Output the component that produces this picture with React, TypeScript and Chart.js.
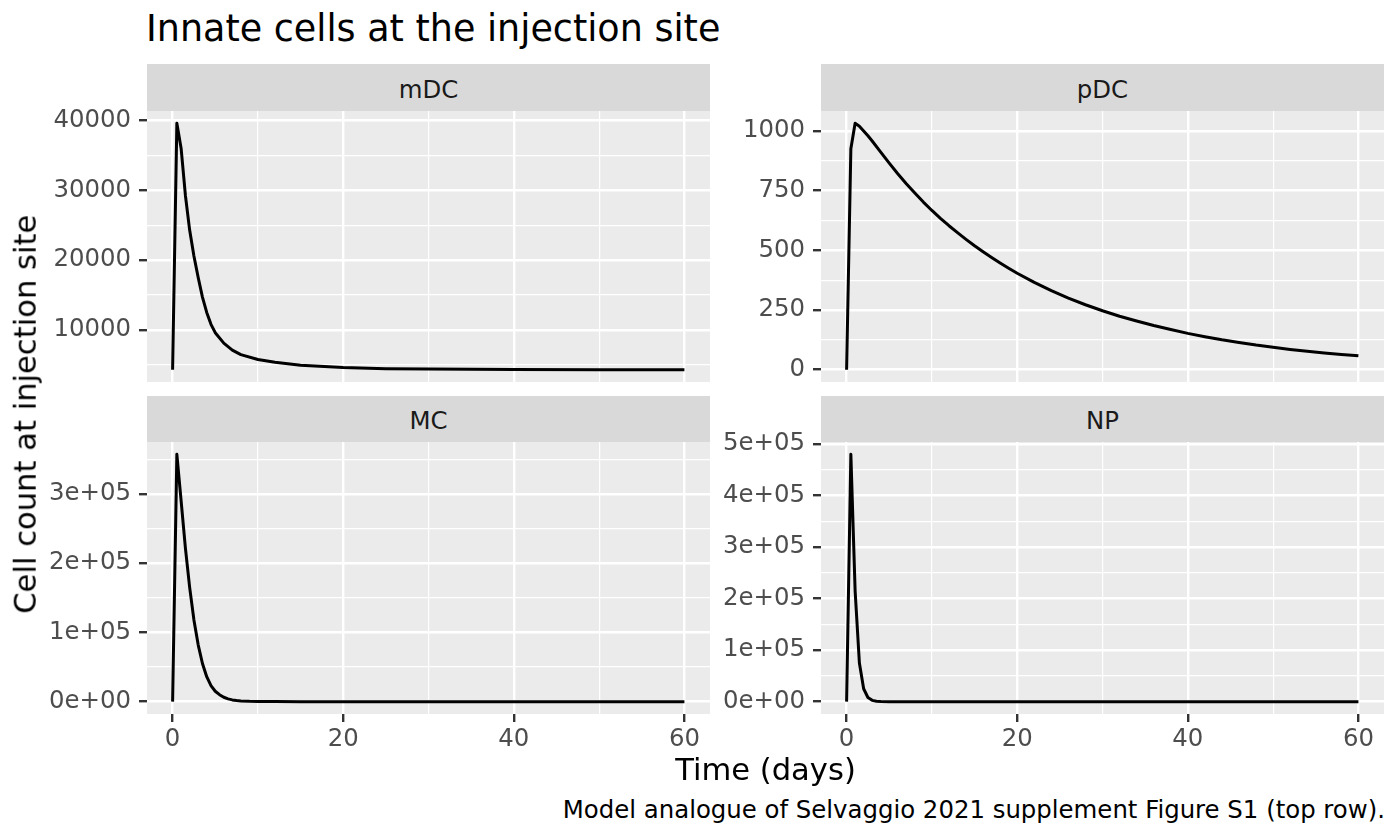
import { useEffect, useRef } from 'react';
import { Chart, registerables } from 'chart.js';

Chart.register(...registerables);

// Cell counts, time in days
const mdcTime = [0, 0.5, 1, 1.5, 2, 2.5, 3, 3.5, 4, 4.5, 5, 6, 7, 8, 10, 12, 15, 20, 25, 30, 40, 50, 60];
const mdcCount = [4300, 39600, 36000, 29300, 24300, 20600, 17500, 14700, 12500, 10800, 9600, 8100, 7100, 6450, 5750, 5350, 4950, 4600, 4450, 4380, 4320, 4300, 4300];

const pdcTime = [0, 0.5, 1, 1.5, 2, 2.5, 3, 4, 5, 6, 7, 8, 9, 10, 11, 12, 13, 14, 15, 16, 17, 18, 19, 20, 22, 24, 26, 28, 30, 32, 34, 36, 38, 40, 42, 44, 46, 48, 50, 52, 54, 56, 58, 60];
const pdcCount = [0, 925, 1032, 1020, 1000, 980, 958, 911, 865, 821, 779, 740, 702, 667, 634, 603, 574, 546, 519, 494, 470, 447, 425, 404, 366, 331, 300, 272, 247, 224, 204, 185, 168, 152, 138, 125, 114, 103, 94, 85, 77, 70, 64, 58];

const mcTime = [0, 0.5, 1, 1.5, 2, 2.5, 3, 3.5, 4, 4.5, 5, 5.5, 6, 6.5, 7, 7.5, 8, 9, 10, 12, 15, 20, 40, 60];
const mcCount = [0, 357000, 290000, 222000, 165000, 118000, 82000, 55000, 36000, 23000, 15000, 10000, 6300, 4000, 2500, 1600, 1000, 400, 170, 30, 0, 0, 0, 0];

const npTime = [0, 0.5, 1, 1.5, 2, 2.5, 3, 3.5, 4, 5, 20, 40, 60];
const npCount = [0, 480000, 215000, 75000, 25000, 8000, 2500, 800, 250, 0, 0, 0, 0];

// axis breaks
const xTicks = [0, 20, 40, 60];
const xMinor = [10, 30, 50];
const xLabels = ['0', '20', '40', '60'];

const mdcTicks = [10000, 20000, 30000, 40000];
const mdcMinor = [5000, 15000, 25000, 35000];
const mdcLabels = ['10000', '20000', '30000', '40000'];

const pdcTicks = [0, 250, 500, 750, 1000];
const pdcMinor = [125, 375, 625, 875];
const pdcLabels = ['0', '250', '500', '750', '1000'];

const mcTicks = [0, 100000, 200000, 300000];
const mcMinor = [50000, 150000, 250000, 350000];
const mcLabels = ['0e+00', '1e+05', '2e+05', '3e+05'];

const npTicks = [0, 100000, 200000, 300000, 400000, 500000];
const npMinor = [50000, 150000, 250000, 350000, 450000];
const npLabels = ['0e+00', '1e+05', '2e+05', '3e+05', '4e+05', '5e+05'];

const FONT = "'DejaVu Sans', sans-serif";
const PAD_T = 30;
const PAD_B = 30;
const PAD_R = 6;
const X_AXIS_H = 60;

const panelBackground = {
  id: 'panelBackground',
  beforeDraw(chart: Chart) {
    const { ctx, chartArea: a } = chart;
    ctx.save();
    ctx.fillStyle = '#EBEBEB';
    ctx.fillRect(a.left, a.top, a.right - a.left, a.bottom - a.top);
    ctx.restore();
  },
};

interface Box { left: number; top: number; right: number; bottom: number }

interface PanelProps {
  time: number[];
  count: number[];
  ticks: number[];
  minor: number[];
  labels: string[];
  box: Box;
  canvasLeft: number;
  showX: boolean;
}

function Panel({ time, count, ticks, minor, labels, box, canvasLeft, showX }: PanelProps) {
  const canvasRef = useRef<HTMLCanvasElement>(null);

  useEffect(() => {
    if (!canvasRef.current) return;
    const lo = Math.min(...count);
    const hi = Math.max(...count);
    const pad = (hi - lo) * 0.05;

    const isMajorX = (c: any) => !!c.tick && xTicks.includes(c.tick.value);
    const isMajorY = (c: any) => !!c.tick && ticks.includes(c.tick.value);

    const chart = new Chart(canvasRef.current, {
      type: 'line',
      data: {
        datasets: [{
          data: time.map((t, i) => ({ x: t, y: count[i] })),
          borderColor: '#000000',
          borderWidth: 3,
          pointRadius: 0,
          tension: 0,
          borderJoinStyle: 'round',
        }],
      },
      options: {
        animation: false,
        responsive: true,
        maintainAspectRatio: false,
        layout: { padding: { top: PAD_T, right: PAD_R, bottom: showX ? 0 : PAD_B, left: 0 } },
        plugins: { legend: { display: false }, tooltip: { enabled: false } },
        scales: {
          x: {
            type: 'linear',
            min: -3,
            max: 63,
            afterBuildTicks: (s: any) => {
              s.ticks = [...xTicks, ...xMinor].sort((a, b) => a - b).map((v) => ({ value: v }));
            },
            afterFit: (s: any) => { s.height = showX ? X_AXIS_H : 0; },
            border: { display: false },
            grid: {
              color: '#FFFFFF',
              lineWidth: (c: any) => (isMajorX(c) ? 2.4 : 1.2),
              drawTicks: showX,
              tickLength: 8,
              tickWidth: 2.4,
              tickColor: (c: any) => (isMajorX(c) ? '#333333' : 'rgba(0,0,0,0)'),
            },
            ticks: {
              display: showX,
              autoSkip: false,
              maxRotation: 0,
              padding: 3,
              color: '#4D4D4D',
              font: { family: FONT, size: 24.4 },
              callback: (v: any) => {
                const i = xTicks.indexOf(Number(v));
                return i >= 0 ? xLabels[i] : '';
              },
            },
          },
          y: {
            type: 'linear',
            min: lo - pad,
            max: hi + pad,
            afterBuildTicks: (s: any) => {
              s.ticks = [...ticks, ...minor]
                .filter((v) => v >= lo - pad && v <= hi + pad)
                .sort((a, b) => a - b)
                .map((v) => ({ value: v }));
            },
            afterFit: (s: any) => { s.width = box.left - canvasLeft; },
            border: { display: false },
            grid: {
              color: '#FFFFFF',
              lineWidth: (c: any) => (isMajorY(c) ? 2.4 : 1.2),
              tickLength: 8,
              tickWidth: 2.4,
              tickColor: (c: any) => (isMajorY(c) ? '#333333' : 'rgba(0,0,0,0)'),
            },
            ticks: {
              autoSkip: false,
              padding: 8,
              color: '#4D4D4D',
              font: { family: FONT, size: 24.4 },
              callback: (v: any) => {
                const i = ticks.indexOf(Number(v));
                return i >= 0 ? labels[i] : '';
              },
            },
          },
        },
      },
      plugins: [panelBackground],
    });

    return () => { chart.destroy(); };
  }, [time, count, ticks, minor, labels, box, canvasLeft, showX]);

  return (
    <div
      style={{
        position: 'absolute',
        left: canvasLeft,
        top: box.top - PAD_T,
        width: box.right - canvasLeft + PAD_R,
        height: box.bottom - box.top + PAD_T + (showX ? X_AXIS_H : PAD_B),
      }}
    >
      <canvas ref={canvasRef} />
    </div>
  );
}

function Strip({ label, left, right, top, bottom }: { label: string; left: number; right: number; top: number; bottom: number }) {
  return (
    <div
      style={{
        position: 'absolute',
        left,
        top,
        width: right - left,
        height: bottom - top,
        background: '#D9D9D9',
        color: '#1A1A1A',
        fontSize: 24.4,
        lineHeight: `${bottom - top + 4}px`,
        textAlign: 'center',
      }}
    >
      {label}
    </div>
  );
}

const topLeft: Box = { left: 147, top: 110.5, right: 710, bottom: 381.5 };
const topRight: Box = { left: 821, top: 110.5, right: 1384, bottom: 381.5 };
const botLeft: Box = { left: 147, top: 442, right: 710, bottom: 714 };
const botRight: Box = { left: 821, top: 442, right: 1384, bottom: 714 };

export default function App() {
  return (
    <div
      style={{
        position: 'absolute',
        left: 0,
        top: 0,
        width: 1400,
        height: 840,
        background: '#FFFFFF',
        overflow: 'hidden',
        fontFamily: FONT,
      }}
    >
      <Panel time={mdcTime} count={mdcCount} ticks={mdcTicks} minor={mdcMinor} labels={mdcLabels} box={topLeft} canvasLeft={0} showX={false} />
      <Panel time={pdcTime} count={pdcCount} ticks={pdcTicks} minor={pdcMinor} labels={pdcLabels} box={topRight} canvasLeft={715} showX={false} />
      <Panel time={mcTime} count={mcCount} ticks={mcTicks} minor={mcMinor} labels={mcLabels} box={botLeft} canvasLeft={0} showX={true} />
      <Panel time={npTime} count={npCount} ticks={npTicks} minor={npMinor} labels={npLabels} box={botRight} canvasLeft={715} showX={true} />

      <Strip label="mDC" left={147} right={710} top={63.5} bottom={110.5} />
      <Strip label="pDC" left={821} right={1384} top={63.5} bottom={110.5} />
      <Strip label="MC" left={147} right={710} top={395.5} bottom={442} />
      <Strip label="NP" left={821} right={1384} top={395.5} bottom={442} />

      <div style={{ position: 'absolute', left: 146, top: 10.8, fontSize: 36.5, lineHeight: '36.5px', color: '#000', whiteSpace: 'nowrap' }}>
        Innate cells at the injection site
      </div>

      <div
        style={{
          position: 'absolute',
          left: 26.1 - 250,
          top: 414.5 - 15.3,
          width: 500,
          height: 30.6,
          fontSize: 30.6,
          lineHeight: '30.6px',
          textAlign: 'center',
          color: '#000',
          transform: 'rotate(-90deg)',
          whiteSpace: 'nowrap',
        }}
      >
        Cell count at injection site
      </div>

      <div style={{ position: 'absolute', left: 147, top: 755.1, width: 1237, fontSize: 30.6, lineHeight: '30.6px', textAlign: 'center', color: '#000', whiteSpace: 'nowrap' }}>
        Time (days)
      </div>

      <div style={{ position: 'absolute', left: 0, top: 798.4, width: 1385, fontSize: 24.4, lineHeight: '24.4px', textAlign: 'right', color: '#000', whiteSpace: 'nowrap' }}>
        Model analogue of Selvaggio 2021 supplement Figure S1 (top row).
      </div>
    </div>
  );
}
